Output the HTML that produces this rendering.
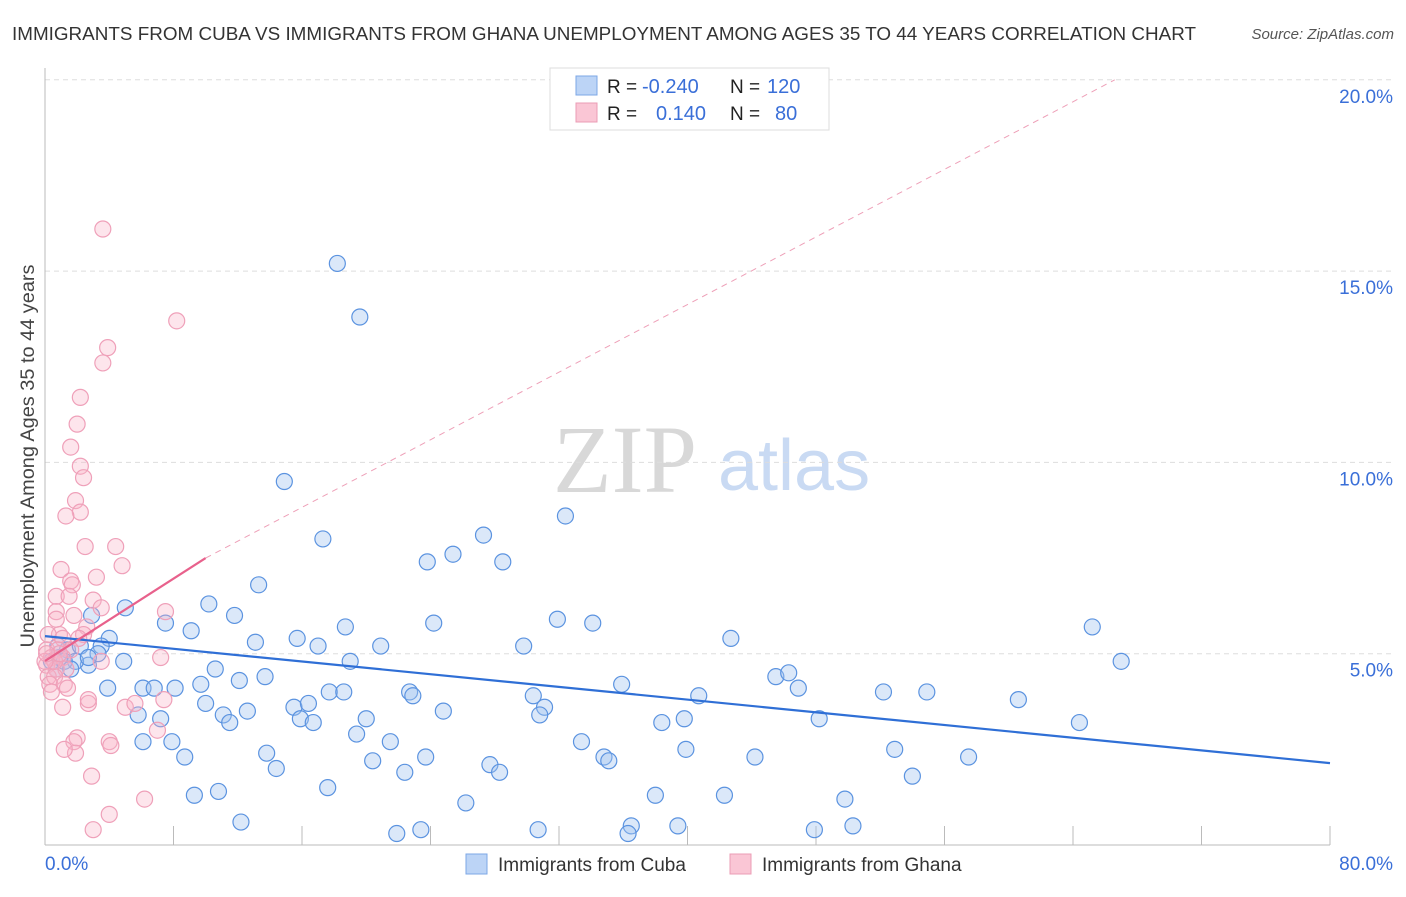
<!DOCTYPE html>
<html><head><meta charset="utf-8"><style>
body{margin:0;background:#fff;font-family:"Liberation Sans",sans-serif}
svg text{font-family:"Liberation Sans",sans-serif}
</style></head><body>
<svg id="chart" width="1406" height="892" viewBox="0 0 1406 892" xmlns="http://www.w3.org/2000/svg">
<text x="12" y="40" font-size="18" fill="#333" textLength="1184" lengthAdjust="spacingAndGlyphs">IMMIGRANTS FROM CUBA VS IMMIGRANTS FROM GHANA UNEMPLOYMENT AMONG AGES 35 TO 44 YEARS CORRELATION CHART</text>
<text x="1394" y="39" font-size="15" fill="#555" font-style="italic" text-anchor="end">Source: ZipAtlas.com</text>
<text transform="translate(34,456) rotate(-90)" font-size="19" fill="#444" text-anchor="middle" textLength="383" lengthAdjust="spacingAndGlyphs">Unemployment Among Ages 35 to 44 years</text>
<g>
<text x="553" y="492" font-size="96" fill="#d8d8d8" font-family="Liberation Serif" style="font-family:'Liberation Serif',serif">ZIP</text>
<text x="718" y="490" font-size="72" fill="#c9daf3">atlas</text>
</g>
<g id="grid"></g>
<g id="axes"></g>
<g id="pts"></g>
<g id="trend"></g>
<g>
<rect x="550" y="68" width="279" height="62" fill="#fff" stroke="#ddd"/>
<rect x="576" y="76" width="21" height="19" fill="#bcd4f6" stroke="#7da7e6"/>
<rect x="576" y="103" width="21" height="19" fill="#fac6d5" stroke="#eb9cb5"/>
<text x="607" y="93" font-size="19" fill="#222">R = </text><text x="642" y="93" font-size="20" fill="#3a6fd8">-0.240</text>
<text x="730" y="93" font-size="19" fill="#222">N = </text><text x="767" y="93" font-size="20" fill="#3a6fd8">120</text>
<text x="607" y="120" font-size="19" fill="#222">R = </text><text x="656" y="120" font-size="20" fill="#3a6fd8">0.140</text>
<text x="730" y="120" font-size="19" fill="#222">N = </text><text x="775" y="120" font-size="20" fill="#3a6fd8">80</text>
</g>
<g>
<rect x="466" y="854" width="21" height="20" fill="#bcd4f6" stroke="#7da7e6"/>
<text x="498" y="871" font-size="19" fill="#333">Immigrants from Cuba</text>
<rect x="730" y="854" width="21" height="20" fill="#fac6d5" stroke="#eb9cb5"/>
<text x="762" y="871" font-size="19" fill="#333">Immigrants from Ghana</text>
</g>
</svg>
<script>
const yTicks=[5,10,15,20];
const yTickLabels=["5.0%","10.0%","15.0%","20.0%"];
const xTicks=[0,8,16,24,32,40,48,56,64,72,80];
const xEndLabels=["0.0%","80.0%"];
const cubaX=[18.2,19.6,14.9,32.4,17.3,27.3,25.4,23.8,28.5,13.3,10.2,5.0,11.8,2.9,65.2,24.2,31.9,34.1,7.5,9.1,18.7,15.7,17.0,13.1,20.9,29.8,42.7,4.0,3.5,3.3,4.9,67.0,19.0,10.6,13.7,2.7,12.1,9.7,6.1,8.1,6.8,3.9,17.7,18.6,22.7,22.9,35.9,45.5,46.3,46.9,52.2,54.9,40.7,30.4,15.5,16.4,10.0,60.6,12.6,24.8,31.1,5.8,11.1,11.5,20.0,15.9,7.2,16.7,30.8,48.2,39.8,38.4,64.4,19.4,21.5,6.1,7.9,33.4,13.8,39.9,52.9,8.7,23.7,34.8,35.1,44.2,57.5,20.4,27.7,14.4,28.3,22.4,54.0,17.6,10.8,9.3,38.0,42.3,26.2,49.8,12.2,30.7,36.5,39.4,50.3,47.9,21.9,23.4,36.3,1.4,0.4,0.9,1.9,0.7,1.2,2.2,2.7,1.6,0.8];
const cubaY=[15.2,13.8,9.5,8.6,8.0,8.1,7.6,7.4,7.4,6.8,6.3,6.2,6.0,6.0,5.7,5.8,5.9,5.8,5.8,5.6,5.7,5.4,5.2,5.3,5.2,5.2,5.4,5.4,5.2,5.0,4.8,4.8,4.8,4.6,4.4,4.7,4.3,4.2,4.1,4.1,4.1,4.1,4.0,4.0,4.0,3.9,4.2,4.4,4.5,4.1,4.0,4.0,3.9,3.9,3.6,3.7,3.7,3.8,3.5,3.5,3.6,3.4,3.4,3.2,3.3,3.3,3.3,3.2,3.4,3.3,3.3,3.2,3.2,2.9,2.7,2.7,2.7,2.7,2.4,2.5,2.5,2.3,2.3,2.3,2.2,2.3,2.3,2.2,2.1,2.0,1.9,1.9,1.8,1.5,1.4,1.3,1.3,1.3,1.1,1.2,0.6,0.4,0.5,0.5,0.5,0.4,0.3,0.4,0.3,5.1,4.8,4.9,4.8,4.6,4.8,5.2,4.9,4.6,5.2];
const ghanaX=[3.6,8.2,3.9,3.6,2.2,2.0,1.6,2.2,2.4,1.9,2.2,1.3,2.5,4.4,1.0,4.8,3.2,1.6,1.7,0.7,1.5,3.0,0.7,3.5,7.5,1.8,0.7,2.6,0.9,2.4,0.2,1.1,2.1,0.1,0.8,1.6,3.5,7.2,0.4,1.1,0.1,0.7,1.3,0.2,0.6,0.3,1.2,1.4,0.4,2.7,2.7,1.1,5.0,7.4,5.6,7.0,2.0,1.8,4.0,4.1,1.9,1.2,2.9,6.2,4.0,3.0,0.6,0.9,0.0,0.1];
const ghanaY=[16.1,13.7,13.0,12.6,11.7,11.0,10.4,9.9,9.6,9.0,8.7,8.6,7.8,7.8,7.2,7.3,7.0,6.9,6.8,6.5,6.5,6.4,6.1,6.2,6.1,6.0,5.9,5.7,5.5,5.5,5.5,5.4,5.4,5.1,5.1,5.1,4.8,4.9,4.9,4.9,4.7,4.6,4.6,4.4,4.4,4.2,4.2,4.1,4.0,3.7,3.8,3.6,3.6,3.8,3.7,3.0,2.8,2.7,2.7,2.6,2.4,2.5,1.8,1.2,0.8,0.4,4.8,5.0,4.8,5.0];
const cubaTrendX=[0,80], cubaTrendY=[5.46,2.14];
const ghanaTrendX=[0,10], ghanaTrendY=[4.81,7.5];
const ghanaDashX=[10,66.6], ghanaDashY=[7.5,20];

const NS="http://www.w3.org/2000/svg";
const X0=45,X1=1330,Y0=845,YPER=38.26;
const sx=v=>X0+(v/80)*(X1-X0);
const sy=v=>Y0-v*YPER;
function mk(tag,attrs,parent){const e=document.createElementNS(NS,tag);for(const k in attrs)e.setAttribute(k,attrs[k]);parent.appendChild(e);return e;}
const grid=document.getElementById('grid'),axes=document.getElementById('axes'),pts=document.getElementById('pts'),trend=document.getElementById('trend');
yTicks.forEach((t,i)=>{
  const l=mk('line',{x1:X0,x2:1393,y1:sy(t),y2:sy(t),stroke:'#ddd','stroke-dasharray':'5,4'},grid);
  
  
  const tx=mk('text',{x:1393,y:sy(t)+23,'font-size':19,fill:'#3a6fd8','text-anchor':'end'},axes);
  tx.textContent=yTickLabels[i];
  
  
});
const ax=mk('line',{x1:X0,x2:X0,y1:68,y2:Y0,stroke:'#bbb'},axes);


const bx=mk('line',{x1:X0,x2:X1,y1:Y0,y2:Y0,stroke:'#bbb'},axes);


xTicks.forEach(t=>{
  const l=mk('line',{x1:sx(t),x2:sx(t),y1:826,y2:Y0,stroke:'#bbb'},axes);
  
  
});
const xl0=mk('text',{x:45,y:870,'font-size':19,fill:'#3a6fd8'},axes);xl0.textContent=xEndLabels[0];


const xl1=mk('text',{x:1393,y:870,'font-size':19,fill:'#3a6fd8','text-anchor':'end'},axes);xl1.textContent=xEndLabels[1];


cubaX.forEach((v,i)=>{
  const c=mk('circle',{cx:sx(v),cy:sy(cubaY[i]),r:8,fill:'rgba(160,195,240,0.38)',stroke:'#5b93e0','stroke-width':1.2},pts);
  
  
});
ghanaX.forEach((v,i)=>{
  const c=mk('circle',{cx:sx(v),cy:sy(ghanaY[i]),r:8,fill:'rgba(248,180,200,0.35)',stroke:'#efa0b9','stroke-width':1.2},pts);
  
  
});
const t1=mk('line',{x1:sx(cubaTrendX[0]),y1:sy(cubaTrendY[0]),x2:sx(cubaTrendX[1]),y2:sy(cubaTrendY[1]),stroke:'#2f6fd6','stroke-width':2.2},trend);


const t2=mk('line',{x1:sx(ghanaTrendX[0]),y1:sy(ghanaTrendY[0]),x2:sx(ghanaTrendX[1]),y2:sy(ghanaTrendY[1]),stroke:'#e8618c','stroke-width':2.2},trend);


const t3=mk('line',{x1:sx(ghanaDashX[0]),y1:sy(ghanaDashY[0]),x2:sx(ghanaDashX[1]),y2:sy(ghanaDashY[1]),stroke:'#eea0b8','stroke-width':1,'stroke-dasharray':'6,5'},trend);


</script>
</body></html>
